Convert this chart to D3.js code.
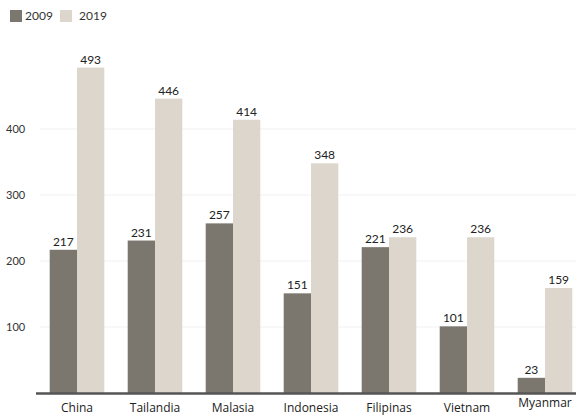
<!DOCTYPE html>
<html><head><meta charset="utf-8">
<script src="https://cdn.jsdelivr.net/npm/d3@7/dist/d3.min.js"></script>
<style>body{margin:0;background:#fff}svg{display:block}</style>
</head><body>
<script>
const categories = ["China","Tailandia","Malasia","Indonesia","Filipinas","Vietnam","Myanmar"];
const values2009 = [217,231,257,151,221,101,23];
const values2019 = [493,446,414,348,236,236,159];
const seriesNames = ["2009","2019"];
const tickValues = [100,200,300,400];

const W=576,H=415;
const colors={"2009":"#7c776e","2019":"#dcd6cd"};
const svg=d3.select("body").append("svg").attr("width",W).attr("height",H);
const y=d3.scaleLinear().domain([0,500]).range([393,393-0.66*500]);
const x=d3.scaleBand().domain(categories).range([38,584]).paddingInner(0.3).paddingOuter(0.15);
const xs=d3.scaleBand().domain(seriesNames).range([0,x.bandwidth()]);

// gridlines
svg.append("g").selectAll("line").data(tickValues).join("line")
 .attr("x1",40).attr("x2",576).attr("y1",d=>y(d)).attr("y2",d=>y(d))
 .attr("stroke","#f1f1f1").attr("stroke-width",1);

// y labels
svg.append("g").selectAll("text").data(tickValues).join("text")
 .attr("x",6).attr("y",d=>y(d)).attr("dy","0.35em")
 .attr("font-family","Lato, 'Open Sans', sans-serif").attr("font-size",11).attr("fill","#333")
 .text(d=>d);

const data=categories.map((c,i)=>({c,vals:[{s:"2009",v:values2009[i]},{s:"2019",v:values2019[i]}]}));
const g=svg.append("g").selectAll("g").data(data).join("g").attr("transform",d=>`translate(${x(d.c)},0)`);
g.selectAll("rect").data(d=>d.vals).join("rect")
 .attr("x",d=>xs(d.s)).attr("width",xs.bandwidth()).attr("y",d=>y(d.v)).attr("height",d=>y(0)-y(d.v))
 .attr("fill",d=>colors[d.s]);
g.selectAll("text.v").data(d=>d.vals).join("text").attr("class","v")
 .attr("x",d=>xs(d.s)+xs.bandwidth()/2).attr("y",d=>y(d.v)-4).attr("text-anchor","middle")
 .attr("font-family","Lato, 'Open Sans', sans-serif").attr("font-size",12).attr("fill","#222")
 .text(d=>d.v);

// baseline
svg.append("line").attr("x1",36).attr("x2",576).attr("y1",y(0)+0.5).attr("y2",y(0)+0.5)
 .attr("stroke","#555").attr("stroke-width",2.5);

// category labels
svg.append("g").selectAll("text").data(categories).join("text")
 .attr("x",d=>x(d)+x.bandwidth()/2).attr("y",d=>d==="Myanmar"?407:412).attr("text-anchor","middle")
 .attr("font-family","'Open Sans', Lato, sans-serif").attr("font-size",12).attr("fill","#222")
 .text(d=>d);

// legend
const leg=svg.append("g");
const legX=[10,60];
seriesNames.forEach((s,i)=>{
 leg.append("rect").attr("x",legX[i]).attr("y",10).attr("width",12).attr("height",12).attr("fill",colors[s]);
 leg.append("text").attr("x",legX[i]+(i===0?15:19)).attr("y",20).attr("font-family","Lato, 'Open Sans', sans-serif")
  .attr("font-size",12).attr("fill","#333").text(s);
});
</script>
</body></html>
